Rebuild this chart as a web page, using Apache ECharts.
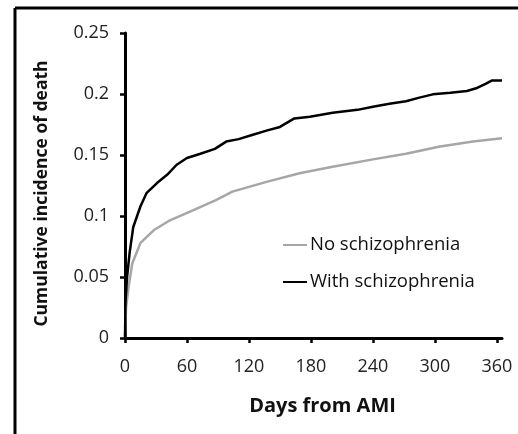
<!DOCTYPE html>
<html>
<head>
<meta charset="utf-8">
<script src="https://cdn.jsdelivr.net/npm/echarts@6/dist/echarts.min.js"></script>
<style>html,body{margin:0;padding:0;background:#fff;}#c{width:518px;height:434px;}</style>
</head>
<body>
<div id="c"></div>
<script>
const withDays = [0, 0.5, 2, 4.5, 8, 15, 21, 31, 41, 50, 60, 73, 87, 98, 110, 123, 137, 150, 164, 179, 201, 225, 240, 256, 272, 285, 298, 315, 331, 340, 350, 355, 365];
const withVals = [0, 0.03, 0.05, 0.07, 0.091, 0.108, 0.119, 0.127, 0.134, 0.142, 0.1475, 0.151, 0.155, 0.161, 0.163, 0.1664, 0.170, 0.173, 0.180, 0.1814, 0.1847, 0.187, 0.1896, 0.192, 0.194, 0.197, 0.1997, 0.201, 0.2025, 0.2047, 0.2087, 0.211, 0.211];
const noDays = [0, 1, 3.5, 7, 15, 28, 44, 63, 88, 104, 137, 169, 201, 240, 272, 305, 337, 365];
const noVals = [0, 0.025, 0.042, 0.061, 0.078, 0.0885, 0.0967, 0.1036, 0.113, 0.12, 0.128, 0.135, 0.1404, 0.1464, 0.151, 0.157, 0.161, 0.1637];
const xTicks = [0, 60, 120, 180, 240, 300, 360];
const seriesNames = ['No schizophrenia', 'With schizophrenia'];
const xTitle = 'Days from AMI';
const yTitle = 'Cumulative incidence of death';

const FONT = 'Open Sans';
const chart = echarts.init(document.getElementById('c'), null, {renderer: 'canvas'});
chart.setOption({
  animation: false,
  backgroundColor: '#fff',
  grid: {left: 125, right: 16, top: 33, bottom: 96, containLabel: false},
  graphic: [
    {type: 'line', shape: {x1: 15, y1: 8, x2: 518, y2: 8}, style: {stroke: '#000', lineWidth: 3}},
    {type: 'line', shape: {x1: 15, y1: 8, x2: 15, y2: 434}, style: {stroke: '#000', lineWidth: 3}}
  ],
  legend: {
    orient: 'vertical', left: 278, top: 229, itemWidth: 24, itemHeight: 2, itemGap: 15,
    icon: 'rect',
    textStyle: {fontFamily: FONT, fontSize: 18.5, color: '#111', lineHeight: 22, padding: [0,0,0,-2]},
    data: [
      {name: seriesNames[0], itemStyle: {color: '#a6a6a6'}},
      {name: seriesNames[1], itemStyle: {color: '#000'}}
    ]
  },
  xAxis: {
    type: 'value', min: 0, max: 365,
    name: xTitle, nameLocation: 'middle', nameGap: 58,
    nameTextStyle: {fontFamily: FONT, fontSize: 20, fontWeight: 'bold', color: '#111', padding: [0,0,0,18]},
    axisLine: {lineStyle: {color: '#000', width: 3}},
    axisTick: {show: true, length: 5, lineStyle: {color: '#000', width: 2.5}, customValues: xTicks},
    axisLabel: {fontFamily: FONT, fontSize: 18, color: '#222', margin: 20, customValues: xTicks},
    splitLine: {show: false}
  },
  yAxis: {
    type: 'value', min: 0, max: 0.25, interval: 0.05,
    name: yTitle, nameLocation: 'middle', nameGap: 74,
    nameTextStyle: {fontFamily: FONT, fontSize: 17.5, fontWeight: 'bold', color: '#111', padding: [0,16,0,0]},
    axisLine: {show: true, lineStyle: {color: '#000', width: 3}},
    axisTick: {show: true, length: 5, lineStyle: {color: '#000', width: 2.5}},
    axisLabel: {fontFamily: FONT, fontSize: 18, color: '#222', margin: 16},
    splitLine: {show: false}
  },
  series: [
    {name: seriesNames[0], type: 'line', showSymbol: false, symbol: 'none',
     data: noDays.map((d, i) => [d, noVals[i]]),
     lineStyle: {color: '#a6a6a6', width: 2.5}, itemStyle: {color: '#a6a6a6'}, z: 2},
    {name: seriesNames[1], type: 'line', showSymbol: false, symbol: 'none',
     data: withDays.map((d, i) => [d, withVals[i]]),
     lineStyle: {color: '#000', width: 2.5}, itemStyle: {color: '#000'}, z: 3}
  ]
});
</script>
</body>
</html>
